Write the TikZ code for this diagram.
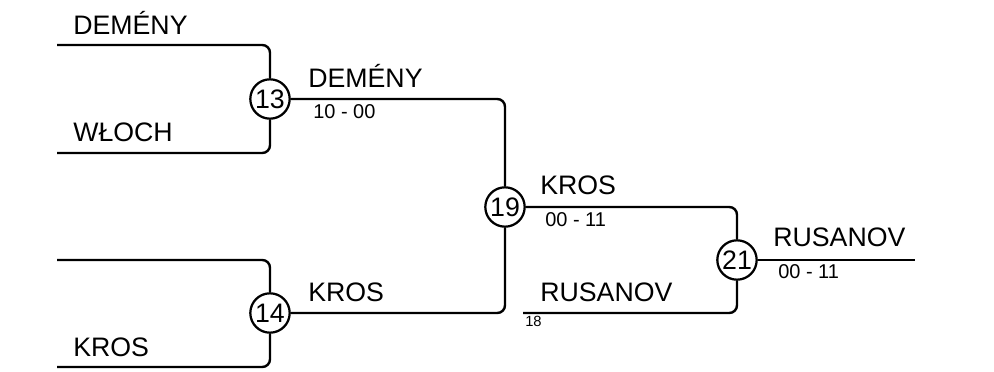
\documentclass[tikz,border=0pt]{standalone}
\usepackage{fontspec}
\setmainfont{Liberation Sans}
\usepackage{tikz}
\usetikzlibrary{positioning}
\tikzset{
  % Match circle
  mnum/.style={circle, draw=black, line width=1.6pt, fill=white,
               minimum size=28pt, inner sep=0pt,
               font=\fontsize{19}{19}\selectfont},
  % Bracket line
  bline/.style={draw=black, line width=1.7pt, rounded corners=5.5pt},
  % Player name and score
  pname/.style={anchor=base west, inner sep=0pt,
                font=\fontsize{19}{19}\selectfont},
  pscore/.style={anchor=base west, inner sep=0pt,
                 font=\fontsize{14.2}{14.2}\selectfont},
  pseed/.style={anchor=base west, inner sep=0pt,
                font=\fontsize{10.5}{10.5}\selectfont},
}
\begin{document}
\begin{tikzpicture}[x=0.025cm,y=-0.025cm]
  \useasboundingbox (0,0) rectangle (994,372);

    %% ── Free line ends ─────────────────────────────────────
    \coordinate (dem)  at (57,45);
    \coordinate (wlo)  at (57,153);
    \coordinate (emp)  at (57,260);
    \coordinate (kro)  at (57,367);
    \coordinate (rus)  at (523,313);
    \coordinate (fin)  at (915,260);

    %% ── Matches ────────────────────────────────────────────
    \node[mnum] (m13) at (270,99)  {13};
    \node[mnum] (m14) at (270,313) {14};
    \node[mnum] (m19) at (505,207) {19};
    \node[mnum] (m21) at (737,260) {21};

    %% ── Lines ──────────────────────────────────────────────
    \draw[bline] (dem) -| (m13);
    \draw[bline] (wlo) -| (m13);
    \draw[bline] (emp) -| (m14);
    \draw[bline] (kro) -| (m14);
    \draw[bline] (m13) -| (m19);
    \draw[bline] (m14) -| (m19);
    \draw[bline] (m19) -| (m21);
    \draw[bline] (rus) -| (m21);
    \draw[bline] (m21) -- (fin);

    %% ── Names ──────────────────────────────────────────────
    \node[pname] (n1) at (73,35)   {DEMÉNY};
    \node[pname] (n2) at (73,142)  {WŁOCH};
    \node[pname] (n3) at (73,357)  {KROS};
    \node[pname] (n4) at (308,88)  {DEMÉNY};
    \node[pname] (n5) at (308,302) {KROS};
    \node[pname] (n6) at (540,195) {KROS};
    \node[pname] (n7) at (540,302) {RUSANOV};
    \node[pname] (n8) at (773,247) {RUSANOV};

    %% ── Scores ─────────────────────────────────────────────
    \node[pscore] (s13) at (313,119) {10 - 00};
    \node[pscore] (s19) at (545,227) {00 - 11};
    \node[pscore] (s21) at (778,279) {00 - 11};
    \node[pseed]  (d18) at (525,327) {18};

  \end{tikzpicture}
\end{document}
